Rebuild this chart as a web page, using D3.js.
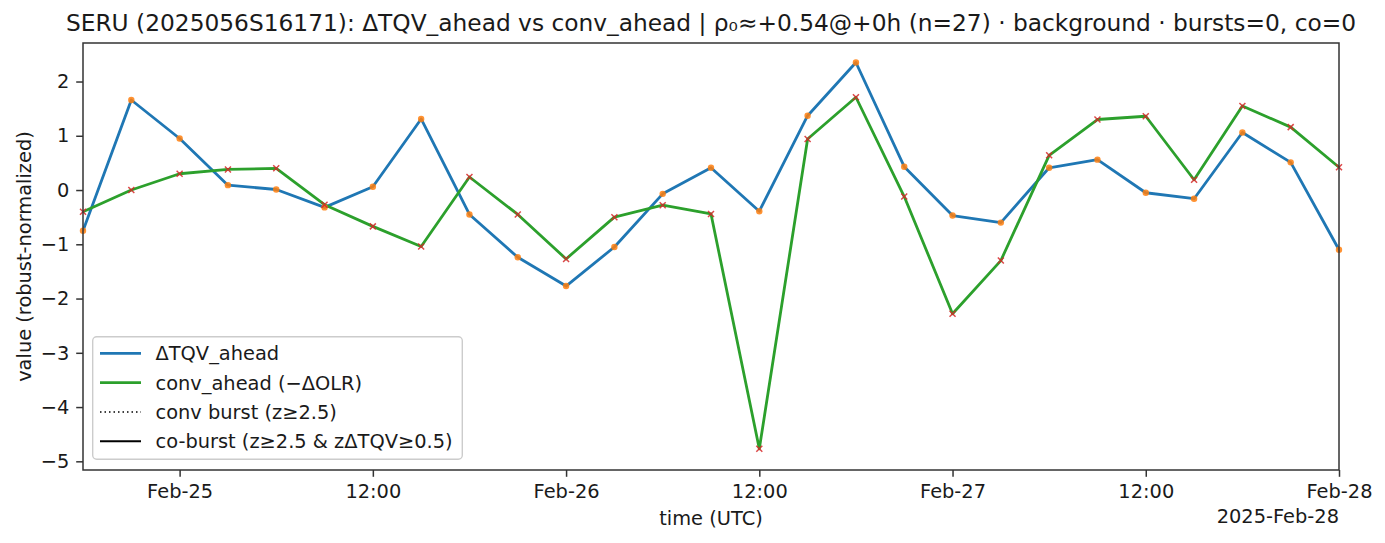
<!DOCTYPE html>
<html>
<head>
<meta charset="utf-8">
<script src="https://cdn.jsdelivr.net/npm/d3@7/dist/d3.min.js"></script>
<style>
  html, body { margin: 0; padding: 0; background: #fff; }
  svg { display: block; font-family: "DejaVu Sans", sans-serif; }
</style>
</head>
<body>
<svg id="chart" width="1385" height="543"></svg>
<script>
// ---- data ----
const startTime = "2025-02-24T18:00:00Z";
const stepHours = 3;
const dtqvAhead = [-0.75, 1.66, 0.95, 0.09, 0.01, -0.32, 0.06, 1.31, -0.45, -1.24, -1.77, -1.05, -0.07, 0.41, -0.39, 1.37, 2.35, 0.43, -0.47, -0.60, 0.41, 0.56, -0.05, -0.16, 1.06, 0.51, -1.10];
const convAhead = [-0.40, 0.00, 0.30, 0.38, 0.40, -0.27, -0.67, -1.04, 0.24, -0.45, -1.27, -0.50, -0.28, -0.44, -4.77, 0.94, 1.71, -0.12, -2.28, -1.30, 0.64, 1.30, 1.36, 0.19, 1.55, 1.16, 0.42];
const yTicks = [2, 1, 0, -1, -2, -3, -4, -5];
const xTickTimes = ["2025-02-25T00:00:00Z", "2025-02-25T12:00:00Z", "2025-02-26T00:00:00Z", "2025-02-26T12:00:00Z", "2025-02-27T00:00:00Z", "2025-02-27T12:00:00Z", "2025-02-28T00:00:00Z"];
const xTickLabels = ["Feb-25", "12:00", "Feb-26", "12:00", "Feb-27", "12:00", "Feb-28"];
const yDomain = [-5.16, 2.71];
const titleText = "SERU (2025056S16171): \u0394TQV_ahead vs conv_ahead | \u03c1\u2080\u2248+0.54@+0h (n=27) \u00b7 background \u00b7 bursts=0, co=0";
const legendLabels = ["\u0394TQV_ahead", "conv_ahead (\u2212\u0394OLR)", "conv burst (z\u22652.5)", "co-burst (z\u22652.5 & z\u0394TQV\u22650.5)"];
const offsetText = "2025-Feb-28";

// ---- layout ----
const W = 1385, H = 543;
const m = { left: 83, right: 1339, top: 43, bottom: 470 };
const FS = 19.4, TFS = 23.3;
const t0 = new Date(startTime);
const times = dtqvAhead.map((_, i) => new Date(t0.getTime() + i * stepHours * 3600e3));

const svg = d3.select("#chart");
svg.append("rect").attr("width", W).attr("height", H).attr("fill", "#fff");

const x = d3.scaleUtc().domain([times[0], times[times.length - 1]]).range([m.left, m.right]);
const y = d3.scaleLinear().domain(yDomain).range([m.bottom, m.top]);

const C = { blue: "#1f77b4", green: "#2ca02c", orange: "#ff7f0e", red: "#d62728", spine: "#333333", text: "#1a1a1a" };

// clip
svg.append("defs").append("clipPath").attr("id", "clip")
  .append("rect").attr("x", m.left).attr("y", m.top).attr("width", m.right - m.left).attr("height", m.bottom - m.top);

const plot = svg.append("g").attr("clip-path", "url(#clip)");
const line = d3.line().x((d, i) => x(times[i])).y(d => y(d));

plot.append("path").datum(dtqvAhead).attr("d", line)
  .attr("fill", "none").attr("stroke", C.blue).attr("stroke-width", 2.8).attr("stroke-linejoin", "round");
plot.append("path").datum(convAhead).attr("d", line)
  .attr("fill", "none").attr("stroke", C.green).attr("stroke-width", 2.8).attr("stroke-linejoin", "round");

svg.append("g").selectAll("circle").data(dtqvAhead).join("circle")
  .attr("cx", (d, i) => x(times[i])).attr("cy", d => y(d)).attr("r", 3.2)
  .attr("fill", C.orange).attr("opacity", 0.85);

const xs = 3.0;
svg.append("g").selectAll("path").data(convAhead).join("path")
  .attr("d", (d, i) => {
    const cx = x(times[i]), cy = y(d);
    return `M${cx - xs},${cy - xs}L${cx + xs},${cy + xs}M${cx - xs},${cy + xs}L${cx + xs},${cy - xs}`;
  })
  .attr("stroke", C.red).attr("stroke-width", 1.5).attr("fill", "none").attr("opacity", 0.85);

// axes
const xAxis = d3.axisBottom(x)
  .tickValues(xTickTimes.map(s => new Date(s)))
  .tickFormat((d, i) => xTickLabels[i])
  .tickSize(6.8).tickPadding(7.2);
const gx = svg.append("g").attr("transform", `translate(0,${m.bottom})`).call(xAxis);
gx.select(".domain").remove();
gx.selectAll(".tick line").attr("stroke", C.spine).attr("stroke-width", 1.5);
gx.selectAll(".tick text").attr("font-size", FS).attr("fill", C.text).attr("font-family", "DejaVu Sans");

const yAxis = d3.axisLeft(y).tickValues(yTicks)
  .tickFormat(d => (d < 0 ? "\u2212" + Math.abs(d) : String(d)))
  .tickSize(6.8).tickPadding(6.8);
const gy = svg.append("g").attr("transform", `translate(${m.left},0)`).call(yAxis);
gy.select(".domain").remove();
gy.selectAll(".tick line").attr("stroke", C.spine).attr("stroke-width", 1.5);
gy.selectAll(".tick text").attr("font-size", FS).attr("fill", C.text).attr("font-family", "DejaVu Sans");

// spines
svg.append("rect").attr("x", m.left).attr("y", m.top).attr("width", m.right - m.left).attr("height", m.bottom - m.top)
  .attr("fill", "none").attr("stroke", C.spine).attr("stroke-width", 1.5);

// offset text
svg.append("text").attr("x", m.right).attr("y", 523).attr("text-anchor", "end")
  .attr("font-size", FS).attr("fill", C.text).text(offsetText);

// axis labels
svg.append("text").attr("x", (m.left + m.right) / 2).attr("y", 525).attr("text-anchor", "middle")
  .attr("font-size", FS).attr("fill", C.text).text("time (UTC)");
svg.append("text").attr("transform", `translate(30.5,${(m.top + m.bottom) / 2}) rotate(-90)`)
  .attr("text-anchor", "middle").attr("font-size", FS).attr("fill", C.text).text("value (robust-normalized)");

// title
svg.append("text").attr("x", (m.left + m.right) / 2).attr("y", 31).attr("text-anchor", "middle")
  .attr("font-size", TFS).attr("fill", C.text).text(titleText);

// legend
const lg = svg.append("g");
lg.append("rect").attr("x", 92.7).attr("y", 336.7).attr("width", 369.6).attr("height", 122.6)
  .attr("rx", 4).attr("fill", "#fff").attr("fill-opacity", 0.8).attr("stroke", "#cccccc").attr("stroke-width", 1.4);
const legendStyles = [
  { color: C.blue, width: 2.8, dash: null },
  { color: C.green, width: 2.8, dash: null },
  { color: "#000", width: 1.5, dash: "1.5,3" },
  { color: "#000", width: 2.0, dash: null }
];
legendLabels.forEach((lab, i) => {
  const cy = 353.3 + i * 29.3;
  const s = legendStyles[i];
  const l = lg.append("line").attr("x1", 100).attr("x2", 141).attr("y1", cy).attr("y2", cy)
    .attr("stroke", s.color).attr("stroke-width", s.width);
  if (s.dash) l.attr("stroke-dasharray", s.dash);
  lg.append("text").attr("x", 155.5).attr("y", cy).attr("dy", "0.36em")
    .attr("font-size", FS).attr("fill", C.text).text(lab);
});
</script>
</body>
</html>
